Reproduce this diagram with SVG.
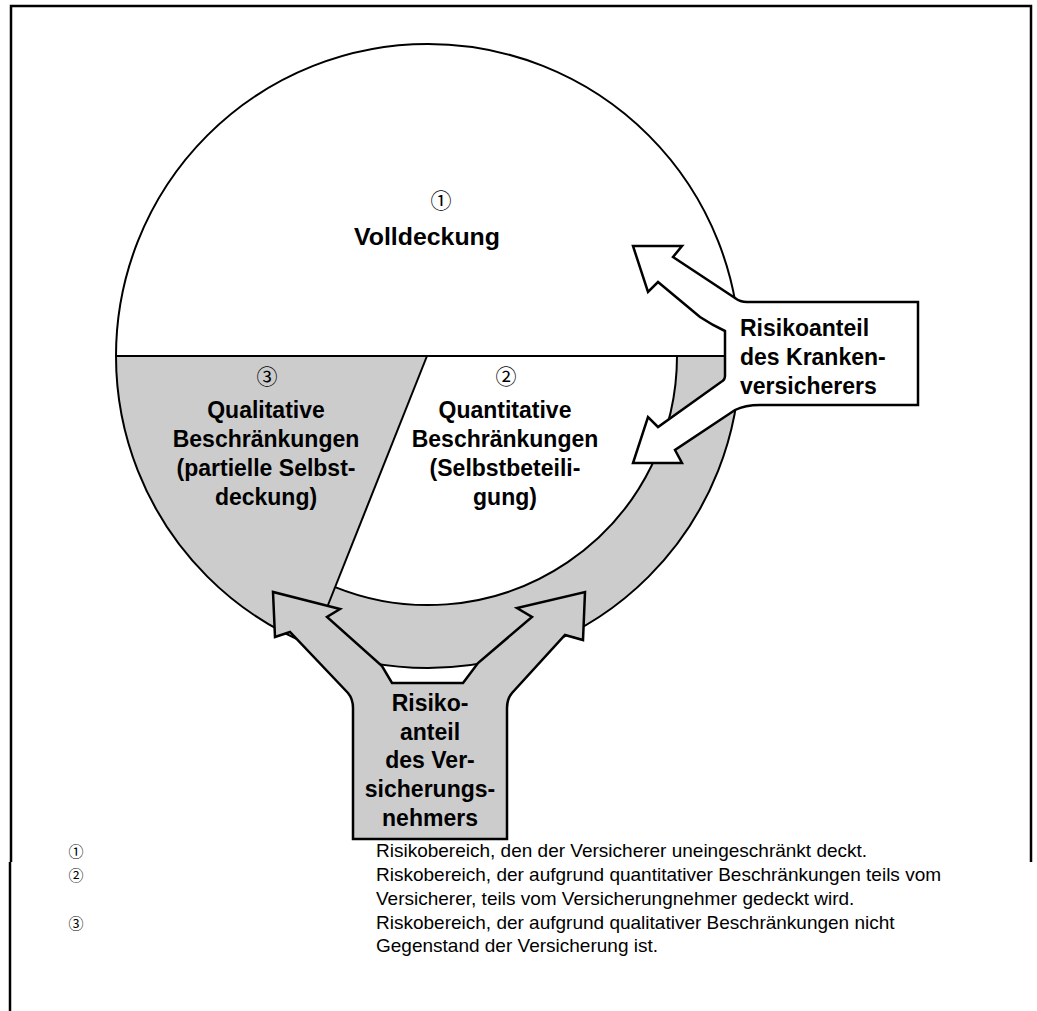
<svg xmlns="http://www.w3.org/2000/svg" width="1037" height="1011" viewBox="0 0 1037 1011">
  <style>
    .frame { fill: none; stroke: #000; stroke-width: 2.5; }
    .edge { fill: none; stroke: #000; stroke-width: 2; }
    .zone-grey { fill: #cccccc; stroke: none; }
    .zone-white { fill: #ffffff; stroke: none; }
    .arrow-white { fill: #ffffff; stroke: #000; stroke-width: 2.5; stroke-linejoin: miter; }
    .arrow-grey { fill: #cccccc; stroke: #000; stroke-width: 2.5; stroke-linejoin: miter; }
    .label { font-family: "Liberation Sans", Arial, sans-serif; font-weight: bold; font-size: 23px; fill: #000; }
    .mid { text-anchor: middle; }
    .num { font-family: "Noto Sans CJK JP", "DejaVu Sans", sans-serif; font-size: 21px; fill: #000; text-anchor: middle; }
    .legend { font-family: "Liberation Sans", Arial, sans-serif; font-size: 19px; fill: #000; }
    .legend-num { font-family: "Noto Sans CJK JP", "DejaVu Sans", sans-serif; font-size: 15px; fill: #000; text-anchor: middle; }
  </style>

  <!-- outer frame -->
  <g id="frame">
    <path class="frame" d="M11,862 V6 H1031 V862"/>
    <path class="frame" d="M10,862 V1011"/>
  </g>

  <!-- risk circle: full cover above, limitations below -->
  <g id="risk-circle">
    <circle cx="428" cy="356" r="312" fill="#ffffff"/>
    <path class="zone-grey" d="M116,356 A312,312 0 0 0 740,356 Z"/>
    <path class="zone-white" d="M427,356 L677,356 A249,249 0 0 1 335.1,587.1 Z"/>
    <circle class="edge" cx="428" cy="356" r="312"/>
    <line class="edge" x1="116" y1="356" x2="726" y2="356"/>
    <line class="edge" x1="427" y1="356" x2="328" y2="605"/>
    <path class="edge" d="M677,356 A249,249 0 0 1 335.1,587.1"/>
  </g>

  <g id="zone-full">
    <text class="num" x="441" y="208">①</text>
    <text class="label mid" x="427" y="245" textLength="146" lengthAdjust="spacingAndGlyphs">Volldeckung</text>
  </g>

  <g id="zone-qualitative">
    <text class="num" x="267" y="384">③</text>
    <text class="label mid" x="266" y="418">Qualitative</text>
    <text class="label mid" x="266" y="447">Beschränkungen</text>
    <text class="label mid" x="266" y="476">(partielle Selbst-</text>
    <text class="label mid" x="266" y="505">deckung)</text>
  </g>

  <g id="zone-quantitative">
    <text class="num" x="506" y="384">②</text>
    <text class="label mid" x="505" y="418">Quantitative</text>
    <text class="label mid" x="505" y="447">Beschränkungen</text>
    <text class="label mid" x="505" y="476">(Selbstbeteili-</text>
    <text class="label mid" x="505" y="505">gung)</text>
  </g>

  <!-- connectors: share of the insurer and of the insured -->
  <g id="connectors">
    <path id="insurer-arrow" class="arrow-white" d="M747,302 L918,302 L918,405 L760,405 Q745,405 735,410 L675,450 L682,463 L633,463 L648,417 L658,427 L721,382 Q725,380 725,376 L725,331 Q712,325 700,317 L658,282 L648,292 L633,246 L682,246 L673,257 L735,298 Q740,302 747,302 Z"/>
    <path id="insured-arrow" class="arrow-grey" d="M353,839 L353,708 Q353,699 348,693 L290,632 L275,637 L273,592 L340,609 L327,617 L382,666 L392,683 L463,683 L478,663 L532,617 L517,608 L585,592 L583,640 L565,635 L512,693 Q507,699 507,708 L507,839 Z"/>
  </g>

  <g id="insurer-label">
    <text class="label" x="740" y="336">Risikoanteil</text>
    <text class="label" x="740" y="365">des Kranken-</text>
    <text class="label" x="740" y="394">versicherers</text>
  </g>

  <g id="insured-label">
    <text class="label mid" x="430" y="711">Risiko-</text>
    <text class="label mid" x="430" y="740">anteil</text>
    <text class="label mid" x="430" y="768">des Ver-</text>
    <text class="label mid" x="430" y="797">sicherungs-</text>
    <text class="label mid" x="430" y="826">nehmers</text>
  </g>

  <!-- legend -->
  <g id="legend">
    <text class="legend-num" x="76" y="857">①</text>
    <text class="legend" x="376" y="857">Risikobereich, den der Versicherer uneingeschränkt deckt.</text>
    <text class="legend-num" x="76" y="881">②</text>
    <text class="legend" x="376" y="881">Riskobereich, der aufgrund quantitativer Beschränkungen teils vom</text>
    <text class="legend" x="376" y="905">Versicherer, teils vom Versicherungnehmer gedeckt wird.</text>
    <text class="legend-num" x="76" y="929">③</text>
    <text class="legend" x="376" y="929">Riskobereich, der aufgrund qualitativer Beschränkungen nicht</text>
    <text class="legend" x="376" y="952">Gegenstand der Versicherung ist.</text>
  </g>
</svg>
